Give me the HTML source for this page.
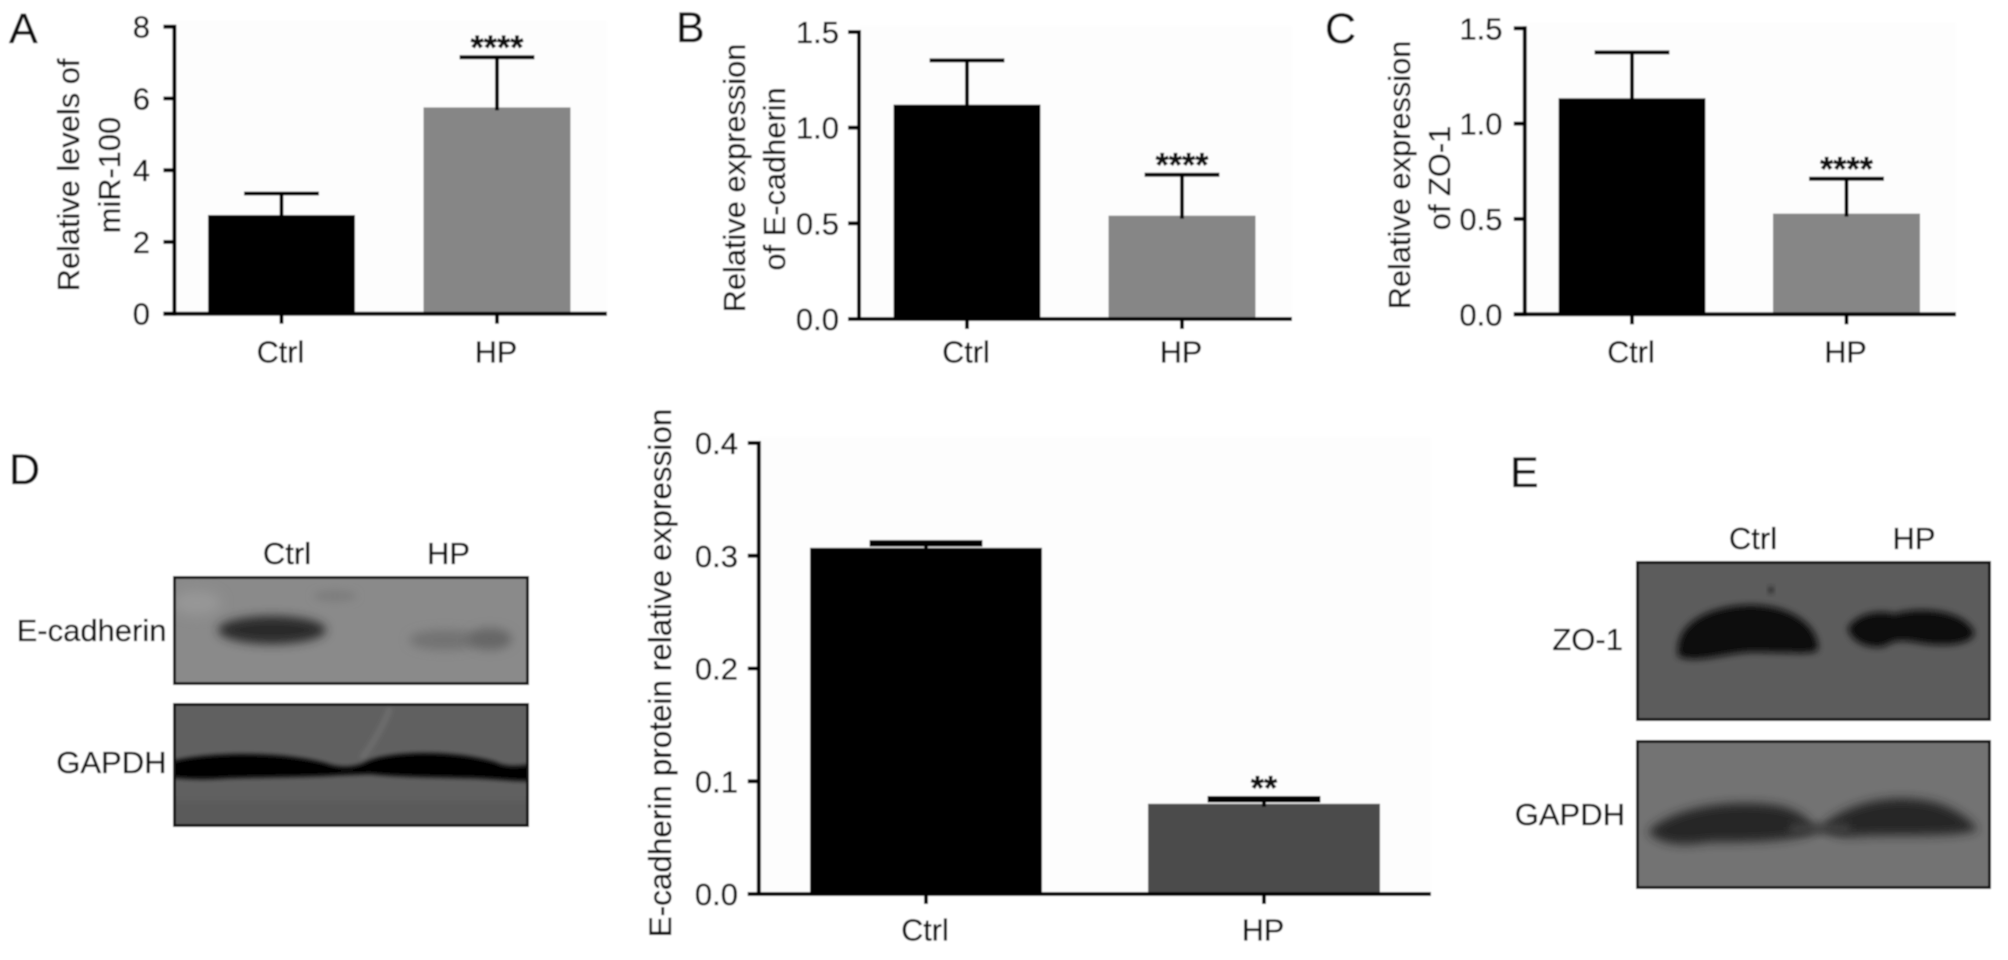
<!DOCTYPE html>
<html lang="en">
<head>
<meta charset="utf-8">
<title>miR-100, E-cadherin and ZO-1 expression figure</title>
<style>
  html, body { margin: 0; padding: 0; background: #ffffff; }
  body { width: 2008px; height: 960px; overflow: hidden; }
  svg { display: block; }
  text { font-family: "Liberation Sans", sans-serif; fill: #0c0c0c; stroke: #0c0c0c; stroke-width: 0.35px; }
</style>
</head>
<body>
<svg id="figure" xmlns="http://www.w3.org/2000/svg" width="2008" height="960" viewBox="0 0 2008 960">
  <defs>
    <filter id="soft" x="-2%" y="-2%" width="104%" height="104%"><feGaussianBlur stdDeviation="0.7"/></filter>
    <filter id="blur6" x="-30%" y="-60%" width="160%" height="220%"><feGaussianBlur stdDeviation="6"/></filter>
    <filter id="blur5" x="-30%" y="-60%" width="160%" height="220%"><feGaussianBlur stdDeviation="5"/></filter>
    <filter id="blur4" x="-30%" y="-60%" width="160%" height="220%"><feGaussianBlur stdDeviation="4"/></filter>
    <filter id="blur3" x="-30%" y="-60%" width="160%" height="220%"><feGaussianBlur stdDeviation="3.2"/></filter>
    <filter id="blur2" x="-30%" y="-60%" width="160%" height="220%"><feGaussianBlur stdDeviation="2.5"/></filter>
    <clipPath id="clipD1"><rect x="173" y="576" width="356" height="109"/></clipPath>
    <clipPath id="clipD2"><rect x="173" y="703" width="356" height="124"/></clipPath>
    <clipPath id="clipE1"><rect x="1636" y="561" width="355" height="160"/></clipPath>
    <clipPath id="clipE2"><rect x="1636" y="740" width="355" height="149"/></clipPath>
  </defs>
  <g id="root" filter="url(#soft)">
    <rect x="0" y="0" width="2008" height="960" fill="#ffffff"/>

    <!-- panel letters -->
    <text x="9" y="43" font-size="43">A</text>
    <text x="676" y="42" font-size="43">B</text>
    <text x="1325" y="43" font-size="43">C</text>
    <text x="9" y="484" font-size="43">D</text>
    <text x="1510" y="487" font-size="43">E</text>

    <!-- y titles -->
    <g font-size="30.8" text-anchor="middle">
      <text transform="translate(79,175) rotate(-90)">Relative levels of</text>
      <text transform="translate(120,175) rotate(-90)">miR-100</text>
      <text transform="translate(745,178) rotate(-90)">Relative expression</text>
      <text transform="translate(785,179) rotate(-90)">of E-cadherin</text>
      <text transform="translate(1410,175) rotate(-90)">Relative expression</text>
      <text transform="translate(1450,178) rotate(-90)">of ZO-1</text>
      <text transform="translate(671,673) rotate(-90)" font-size="31.5">E-cadherin protein relative expression</text>
    </g>

    <!-- blot D -->
    <g>
      <rect x="173" y="576" width="356" height="109" fill="#8a8a8a"/>
      <g clip-path="url(#clipD1)">
        <ellipse cx="197" cy="603" rx="24" ry="12" fill="#979797" filter="url(#blur6)"/>
        <ellipse cx="335" cy="596" rx="22" ry="6" fill="#7e7e7e" filter="url(#blur4)"/>
        <ellipse cx="272" cy="630" rx="54" ry="14" fill="#2a2a2a" filter="url(#blur5)"/>
        <ellipse cx="445" cy="640" rx="36" ry="10" fill="#727272" filter="url(#blur5)"/>
        <ellipse cx="490" cy="639" rx="22" ry="11" fill="#666666" filter="url(#blur5)"/>
      </g>
      <rect x="174.5" y="577.5" width="353" height="106" fill="none" stroke="#111" stroke-width="3"/>
    </g>
    <g>
      <rect x="173" y="703" width="356" height="124" fill="#616161"/>
      <g clip-path="url(#clipD2)">
        <path d="M390 708 C384 725 372 745 362 758" stroke="#727272" stroke-width="4" fill="none" filter="url(#blur2)"/>
        <rect x="165" y="800" width="372" height="30" fill="#5a5a5a" filter="url(#blur4)"/>
        <path d="M170 762 C195 754 270 749 325 763 C335 767 350 769 364 763 C385 751 450 749 495 762 C505 767 515 767 535 764 L535 781 C510 781 500 779 470 778 C430 777 400 777 370 774 L340 775 C310 777 270 777 230 778 C200 780 185 779 170 777 Z" fill="#030303" filter="url(#blur2)"/>
      </g>
      <rect x="174.5" y="704.5" width="353" height="121" fill="none" stroke="#111" stroke-width="3"/>
    </g>
    <g font-size="31">
      <text x="287" y="564" text-anchor="middle">Ctrl</text>
      <text x="448.5" y="564" text-anchor="middle">HP</text>
      <text x="166.5" y="641" text-anchor="end">E-cadherin</text>
      <text x="166.5" y="773" text-anchor="end">GAPDH</text>
    </g>

    <!-- blot E -->
    <g>
      <rect x="1636" y="561" width="355" height="160" fill="#5b5b5b"/>
      <g clip-path="url(#clipE1)">
        <path d="M1678 650 C1678 622 1710 606 1750 605 C1790 605 1818 625 1818 648 C1818 656 1790 652 1750 652 C1720 654 1695 664 1678 656 Z" fill="#0f0f0f" filter="url(#blur3)"/>
        <path d="M1848 628 C1858 612 1880 610 1895 614 C1920 606 1965 610 1974 632 C1975 644 1945 648 1915 642 C1900 640 1895 640 1885 646 C1870 650 1850 642 1848 628 Z" fill="#101010" filter="url(#blur3)"/>
        <circle cx="1771" cy="590" r="3" fill="#262626" filter="url(#blur2)"/>
      </g>
      <rect x="1637.5" y="562.5" width="352" height="157" fill="none" stroke="#111" stroke-width="3"/>
    </g>
    <g>
      <rect x="1636" y="740" width="355" height="149" fill="#737373"/>
      <g clip-path="url(#clipE2)">
        <path d="M1648 832 C1670 808 1730 798 1780 806 C1805 812 1814 825 1816 832 C1790 842 1750 842 1710 842 C1685 846 1662 846 1648 832 Z" fill="#262626" filter="url(#blur5)"/>
        <path d="M1822 826 C1850 800 1900 792 1940 804 C1962 812 1972 822 1978 830 C1950 838 1900 834 1860 836 C1842 838 1826 834 1822 826 Z" fill="#262626" filter="url(#blur5)"/>
        <rect x="1790" y="824" width="60" height="10" fill="#3f3f3f" filter="url(#blur4)"/>
      </g>
      <rect x="1637.5" y="741.5" width="352" height="146" fill="none" stroke="#111" stroke-width="3"/>
    </g>
    <g font-size="31">
      <text x="1753" y="549" text-anchor="middle">Ctrl</text>
      <text x="1914" y="549" text-anchor="middle">HP</text>
      <text x="1623" y="650" text-anchor="end">ZO-1</text>
      <text x="1625" y="825" text-anchor="end">GAPDH</text>
    </g>

    <g id="charts"></g>
  </g>
</svg>

<script>
var panelACategories = ['Ctrl', 'HP'];
var panelAMeans = [2.75, 5.75];
var panelAErrors = [0.6, 1.4];
var panelATickLabels = ['0', '2', '4', '6', '8'];
var panelASignificance = ['', '****'];

var panelBCategories = ['Ctrl', 'HP'];
var panelBMeans = [1.12, 0.54];
var panelBErrors = [0.232, 0.214];
var panelBTickLabels = ['0.0', '0.5', '1.0', '1.5'];
var panelBSignificance = ['', '****'];

var panelCCategories = ['Ctrl', 'HP'];
var panelCMeans = [1.133, 0.528];
var panelCErrors = [0.241, 0.183];
var panelCTickLabels = ['0.0', '0.5', '1.0', '1.5'];
var panelCSignificance = ['', '****'];

var panelDCategories = ['Ctrl', 'HP'];
var panelDMeans = [0.307, 0.08];
var panelDErrors = [0.004, 0.004];
var panelDTickLabels = ['0.0', '0.1', '0.2', '0.3', '0.4'];
var panelDSignificance = ['', '**'];

var SVG_NS = 'http://www.w3.org/2000/svg';
var chartsRoot = document.getElementById('charts');

function make(tag, parent, props, content) {
  var el = document.createElementNS(SVG_NS, tag);
  Object.keys(props).forEach(function (k) { el.setAttribute(k, props[k]); });
  if (content !== undefined) { el.textContent = content; }
  parent.appendChild(el);
  return el;
}

function drawChart(key, frame, categories, means, errors, tickLabels, significance) {
  var maxValue = parseFloat(tickLabels[tickLabels.length - 1]);
  function yScale(v) { return frame.base - (v / maxValue) * (frame.base - frame.top); }
  function xCenter(i) { return frame.x0 + i * frame.step; }

  var group = make('g', chartsRoot, {});
  
  

  make('rect', group, { x: frame.axisX, y: frame.top - 6, width: frame.xEnd - frame.axisX, height: frame.base - frame.top + 6, fill: '#fdfdfd' });

  categories.forEach(function (cat, i) {
    var cx = xCenter(i);
    var bar = make('rect', group, {
      x: cx - frame.barW / 2,
      y: yScale(means[i]),
      width: frame.barW,
      height: frame.base - yScale(means[i]),
      fill: frame.colors[i]
    });
    
    

    var capY = yScale(means[i] + errors[i]);
    var stem = make('line', group, {
      x1: cx, x2: cx, y1: capY, y2: yScale(means[i]) + 3,
      stroke: '#050505', 'stroke-width': frame.stemW
    });
    
    

    var cap = make('line', group, {
      x1: cx - frame.capW / 2, x2: cx + frame.capW / 2, y1: capY, y2: capY,
      stroke: '#050505', 'stroke-width': frame.capH
    });
    
    

    if (significance[i]) {
      var stars = make('text', group, {
        x: cx, y: capY + frame.starDy, 'text-anchor': 'middle', 'font-size': 34, 'font-weight': 'bold'
      }, significance[i]);
      
      
    }

    var tick = make('line', group, {
      x1: cx, x2: cx, y1: frame.base, y2: frame.base + 10,
      stroke: '#050505', 'stroke-width': 4
    });
    
    

    var label = make('text', group, {
      x: cx - 1, y: frame.labelY, 'text-anchor': 'middle', 'font-size': 30.5
    }, cat);
    
    
  });

  tickLabels.forEach(function (t) {
    var y = yScale(parseFloat(t));
    var yTick = make('line', group, {
      x1: frame.axisX - 11, x2: frame.axisX, y1: y, y2: y,
      stroke: '#050505', 'stroke-width': 4
    });
    
    

    var yLabel = make('text', group, {
      x: frame.labelRight, y: y + 11, 'text-anchor': 'end', 'font-size': 31
    }, t);
    
    
  });

  var yAxis = make('line', group, {
    x1: frame.axisX, x2: frame.axisX, y1: frame.top - 2, y2: frame.base + 2,
    stroke: '#050505', 'stroke-width': 4
  });
  
  

  var xAxis = make('line', group, {
    x1: frame.axisX - 11, x2: frame.xEnd, y1: frame.base, y2: frame.base,
    stroke: '#050505', 'stroke-width': 4
  });
  
  
}

drawChart('a', { axisX: 174.4, top: 26.7, base: 313.7, xEnd: 607, x0: 281.5, step: 215.5, barW: 147, capW: 75, capH: 4, stemW: 4, starDy: 2, labelY: 362.5, labelRight: 150, colors: ['#000000', '#868686'] },
  panelACategories, panelAMeans, panelAErrors, panelATickLabels, panelASignificance);

drawChart('b', { axisX: 859, top: 32, base: 319, xEnd: 1292, x0: 967, step: 215, barW: 147, capW: 75, capH: 4, stemW: 4, starDy: 2, labelY: 362.5, labelRight: 839, colors: ['#000000', '#868686'] },
  panelBCategories, panelBMeans, panelBErrors, panelBTickLabels, panelBSignificance);

drawChart('c', { axisX: 1524.8, top: 28.3, base: 314.3, xEnd: 1956, x0: 1632, step: 214.5, barW: 147, capW: 75, capH: 4, stemW: 4, starDy: 2, labelY: 362.5, labelRight: 1502.5, colors: ['#000000', '#868686'] },
  panelCCategories, panelCMeans, panelCErrors, panelCTickLabels, panelCSignificance);

drawChart('d', { axisX: 758.8, top: 443, base: 894, xEnd: 1431, x0: 926, step: 338, barW: 232, capW: 113, capH: 6.5, stemW: 4, starDy: 0, labelY: 940.5, labelRight: 738, colors: ['#000000', '#4c4c4c'] },
  panelDCategories, panelDMeans, panelDErrors, panelDTickLabels, panelDSignificance);
</script>
</body>
</html>
